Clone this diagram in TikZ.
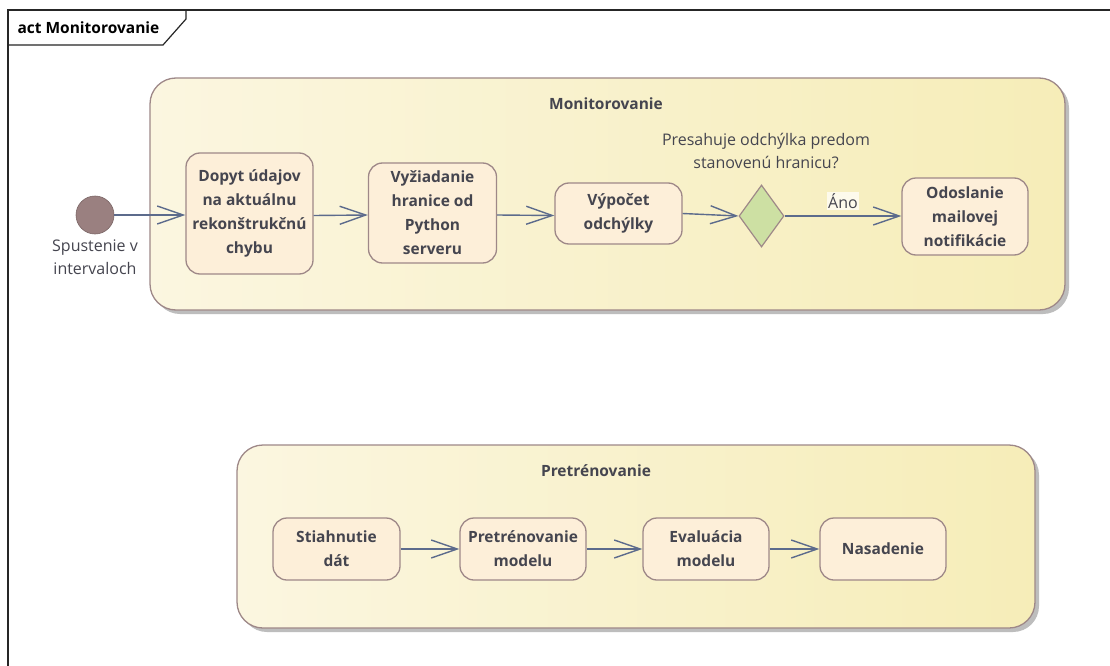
\documentclass[tikz,border=0pt]{standalone}
\usepackage{fontspec}
\setmainfont{Open Sans}
\usetikzlibrary{arrows.meta,shapes.geometric}

\definecolor{actfill}{HTML}{FDEFD9}
\definecolor{actborder}{HTML}{9E8888}
\definecolor{txt}{HTML}{45454F}
\definecolor{flow}{HTML}{5C6B8C}
\definecolor{grpleft}{HTML}{FBF6E0}
\definecolor{grpright}{HTML}{F6EDB8}
\definecolor{shadowc}{HTML}{BDBDBD}
\definecolor{startc}{HTML}{9A8080}
\definecolor{decfill}{HTML}{CDE0A3}

\tikzset{
  action/.style={draw=actborder, fill=actfill, rounded corners=14pt, line width=1.3pt,
    font=\bfseries\fontsize{15.5}{24}\selectfont, text=txt, align=center, inner sep=0pt},
  group/.style={draw=actborder, left color=grpleft, right color=grpright,
    rounded corners=26pt, line width=1.3pt, inner sep=0pt},
  grpshadow/.style={fill=shadowc, rounded corners=26pt},
  grptitle/.style={font=\bfseries\fontsize{15.5}{18}\selectfont, text=txt},
  flowline/.style={draw=flow, line width=1.4pt, -{Straight Barb[length=26pt,width=18pt,line width=1.4pt]}},
  plaintext/.style={font=\fontsize{16}{23}\selectfont, text=txt, align=center}
}

\begin{document}
\begin{tikzpicture}[x=1pt, y=-1pt]
\useasboundingbox (0,0) rectangle (1110,666);
\fill[white] (0,0) rectangle (1110,666);

% diagram frame with its name tab
\draw[line width=1.2pt, black!85] (8,666) -- (8,10) -- (1110,10);
\draw[line width=1.2pt, black!85] (8,45) -- (163,45) -- (186,19) -- (186,10);
\node[anchor=west, font=\bfseries\fontsize{15.5}{18}\selectfont] (frametitle) at (14,28) {act Monitorovanie};

% Monitorovanie group
\fill[grpshadow] (154,82) rectangle (1069,314);
\node[group, minimum width=915pt, minimum height=232pt] (mon) at (607.5,194) {};
\node[grptitle] (montitle) at (606,104) {Monitorovanie};

% Pretrenovanie group
\fill[grpshadow] (241,449) rectangle (1039,632);
\node[group, minimum width=798pt, minimum height=183pt] (pre) at (636,536.5) {};
\node[grptitle] (pretitle) at (596,471) {Pretrénovanie};

% start node
\node[circle, fill=startc, draw=startc!80!black, line width=0.6pt, minimum size=38pt, inner sep=0pt] (start) at (95,215) {};
\node[plaintext] (startlbl) at (95,257) {Spustenie v\\intervaloch};

% monitoring actions
\node[action, minimum width=127pt, minimum height=121pt] (dopyt) at (249.5,213.5) {Dopyt údajov\\na aktuálnu\\rekonštrukčnú\\chybu};
\node[action, minimum width=128pt, minimum height=100pt] (vyz) at (432.5,213) {Vyžiadanie\\hranice od\\Python\\serveru};
\node[action, minimum width=127pt, minimum height=61pt] (vyp) at (618.5,213.5) {Výpočet\\odchýlky};
\node[diamond, draw=actborder, fill=decfill, line width=1.2pt, minimum width=45pt, minimum height=62pt, inner sep=0pt] (dec) at (761.5,216) {};
\node[plaintext] (question) at (766,151) {Presahuje odchýlka predom\\stanovenú hranicu?};
\node[action, minimum width=126pt, minimum height=77pt] (odo) at (965,216.5) {Odoslanie\\mailovej\\notifikácie};

% retraining actions
\node[action, minimum width=127pt, minimum height=62pt] (stiah) at (336.5,549) {Stiahnutie\\dát};
\node[action, minimum width=126pt, minimum height=62pt] (pretr) at (523,549) {Pretrénovanie\\modelu};
\node[action, minimum width=126pt, minimum height=62pt] (eval) at (706,549) {Evaluácia\\modelu};
\node[action, minimum width=126pt, minimum height=62pt] (nas) at (883,549) {Nasadenie};

% control flows
\draw[flowline] (start.east) -- (dopyt.west |- start.east);
\draw[flowline] ([yshift=-2pt]dopyt.east) -- ([yshift=-2pt]vyz.west);
\draw[flowline] ([yshift=-2pt]vyz.east) -- ([yshift=-2pt]vyp.west);
\draw[flowline] (vyp.east) -- (dec.west);
\draw[flowline] (dec.east) -- (odo.west |- dec.east)
  node[midway, above=5pt, fill=grpleft!60!white, inner sep=1.5pt, font=\fontsize{16}{18}\selectfont, text=txt] (ano) {Áno};
\draw[flowline] (stiah.east) -- (pretr.west);
\draw[flowline] (pretr.east) -- (eval.west);
\draw[flowline] (eval.east) -- (nas.west);
\end{tikzpicture}
\end{document}
